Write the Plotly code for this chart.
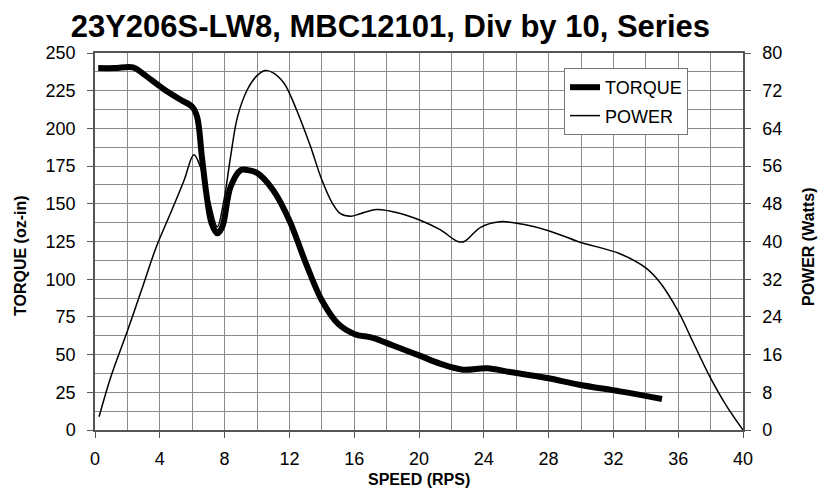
import plotly.graph_objects as go

torque_speed = [0.2, 1.2, 2.35, 3.0, 3.8, 4.25, 5.28, 6.0, 6.3, 6.6, 6.9, 7.2, 7.55, 7.86, 8.37, 9.0, 9.4, 10.0, 11.0, 12.0, 13.0, 14.0, 15.0, 16.0, 17.2, 18.4, 20.0, 21.3, 22.7, 24.2, 25.6, 27.9, 29.9, 32.4, 35.0]
torque_vals = [240, 240, 240.5, 236, 229.5, 226, 219, 214.4, 207.8, 181, 154.7, 137, 130.4, 134.8, 161.3, 172.4, 172.4, 170.5, 159, 139, 111, 86, 70.5, 63.7, 61, 56, 49.5, 44, 40, 41, 38.5, 34.5, 30, 25.6, 20.6]

power_speed = [0.25, 1.0, 2.0, 3.0, 3.8, 4.7, 5.5, 6.1, 6.5, 7.1, 7.55, 7.96, 8.37, 8.8, 9.4, 10.0, 10.5, 11.0, 11.65, 12.0, 12.68, 13.3, 14.0, 14.64, 15.15, 15.8, 16.37, 17.4, 18.8, 20.0, 21.3, 22.4, 22.8, 23.8, 25.0, 26.5, 28.0, 29.9, 32.4, 34.0, 34.9, 36.0, 36.95, 38.0, 39.0, 40.0]
power_vals = [2.8, 11.5, 21, 31, 39, 46.3, 53, 58.4, 55.9, 48.1, 43.1, 48.8, 58, 66.5, 72.2, 75.2, 76.3, 75.8, 73.7, 71.5, 65.9, 60.2, 53.1, 48.2, 45.9, 45.35, 45.9, 46.8, 46, 44.6, 42.5, 40, 40, 43, 44.2, 43.6, 42.3, 39.9, 37.4, 34.4, 31.2, 25.2, 18.4, 11.0, 5.0, 0]

FONT = "Liberation Sans, Arial, sans-serif"
GRID = "#8a8a8a"
AXIS = "#555555"

fig = go.Figure()
fig.add_trace(go.Scatter(x=torque_speed, y=torque_vals, name="TORQUE", mode="lines", legendgroup="t",
                         line=dict(color="black", width=6, shape="spline", smoothing=1.0)))
fig.add_trace(go.Scatter(x=power_speed, y=power_vals, name="POWER", mode="lines", yaxis="y2", legendgroup="p",
                         line=dict(color="black", width=1.5, shape="spline", smoothing=1.0)))

tickfont = dict(size=18, family=FONT, color="black")
fig.update_layout(
    width=833, height=497,
    margin=dict(l=87, r=98, t=45, b=75),
    paper_bgcolor="white", plot_bgcolor="white",
    font=dict(family=FONT, color="black"),
    title=dict(text="<b>23Y206S-LW8, MBC12101, Div by 10, Series</b>", x=0.459, xanchor="center",
               y=0.9638, yanchor="middle", font=dict(size=31, family=FONT, color="black")),
    xaxis=dict(range=[0, 40], dtick=4, tick0=0, showgrid=True, gridcolor=GRID, gridwidth=1,
               minor=dict(dtick=2, showgrid=True, gridcolor=GRID, gridwidth=1),
               showline=True, linecolor=AXIS, linewidth=1.5, mirror=True,
               ticks="outside", ticklen=6, tickcolor=AXIS, zeroline=False,
               ticklabelstandoff=6, tickfont=tickfont),
    yaxis=dict(range=[0, 250], dtick=25, tick0=0, showgrid=True, gridcolor=GRID, gridwidth=1,
               minor=dict(dtick=12.5, showgrid=True, gridcolor=GRID, gridwidth=1),
               showline=True, linecolor=AXIS, linewidth=1.5,
               ticks="outside", ticklen=6, tickcolor=AXIS, zeroline=False,
               ticklabelstandoff=8, tickfont=tickfont),
    yaxis2=dict(range=[0, 80], dtick=8, tick0=0, overlaying="y", side="right", showgrid=False,
                showline=True, linecolor=AXIS, linewidth=1.5,
                ticks="outside", ticklen=6, tickcolor=AXIS, zeroline=False,
                ticklabelstandoff=8, tickfont=tickfont),
    legend=dict(x=0.7238, y=0.9602, xanchor="left", yanchor="top", bgcolor="white",
                bordercolor="#777", borderwidth=1, font=dict(size=18, family=FONT, color="black"),
                tracegroupgap=2),
    showlegend=True,
)

title_font = dict(size=16, family=FONT, color="black")
fig.add_annotation(text="<b>TORQUE (oz-in)</b>", xref="paper", yref="paper", x=-0.1142, y=0.4642,
                   textangle=-90, showarrow=False, font=title_font, xanchor="center", yanchor="middle")
fig.add_annotation(text="<b>POWER (Watts)</b>", xref="paper", yref="paper", x=1.1003, y=0.488,
                   textangle=-90, showarrow=False, font=title_font, xanchor="center", yanchor="middle")
fig.add_annotation(text="<b>SPEED (RPS)</b>", xref="paper", yref="paper", x=0.5, y=-0.13,
                   showarrow=False, font=title_font, xanchor="center", yanchor="middle")

fig.write_html("out.html")
